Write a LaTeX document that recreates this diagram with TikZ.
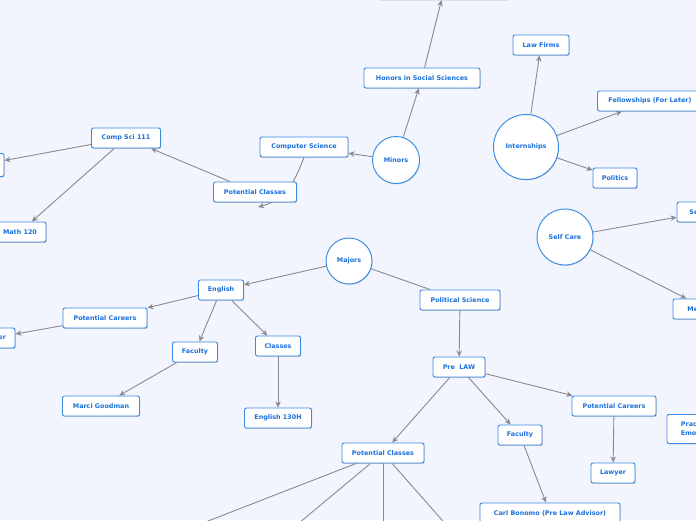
\documentclass[tikz,border=0pt]{standalone}
\usepackage{fontspec}
\setmainfont{DejaVu Sans}
\usetikzlibrary{arrows.meta,shadows}
\definecolor{bgc}{HTML}{F2F5FD}
\definecolor{bord}{HTML}{3A8AE4}
\definecolor{txt}{HTML}{1B70DA}
\definecolor{conn}{HTML}{8A8A8E}
\tikzset{
  box/.style={draw=bord, line width=0.95pt, fill=white, rounded corners=2pt,
    text=txt, font=\fontsize{6.4}{9}\selectfont\bfseries, minimum height=20pt,
    inner sep=0pt, align=center,
    drop shadow={shadow xshift=0.5pt,shadow yshift=-0.8pt,opacity=0.25}},
  bub/.style={circle, draw=bord, line width=0.95pt, fill=white, text=txt,
    font=\fontsize{6.4}{9}\selectfont\bfseries, inner sep=0pt,
    drop shadow={shadow xshift=0.5pt,shadow yshift=-0.8pt,opacity=0.2}},
  ghost/.style={draw=none, fill=none, text opacity=0, drop shadow={opacity=0}},
  arr/.style={draw=conn, line width=0.9pt, -{Stealth[length=6pt,width=5.5pt]}},
  ln/.style={draw=conn, line width=0.9pt}
}
\begin{document}
\begin{tikzpicture}[x=1pt,y=-1pt]
\useasboundingbox (0,0) rectangle (696,520);
\clip (0,0) rectangle (696,520);
\fill[bgc] (0,0) rectangle (696,520);

% the cut-off box at the top
\path (444,-10) node[minimum width=128pt, minimum height=20pt, inner sep=0pt] (top) {};
\draw[black!12, fill=bgc!60!white, line width=0.6pt] (top.north west) rectangle (top.south east);

% geometry of the nodes (invisible), used by the connectors
\path
  (422,78) node[box, minimum width=116pt, ghost] (honors) {Honors in Social Sciences}
  (396,160) node[bub, minimum size=47pt, ghost] (minors) {Minors}
  (304,147) node[box, minimum width=88pt, ghost] (cs) {Computer Science}
  (255,192) node[box, minimum width=83pt, ghost] (pcl) {Potential Classes}
  (126,138) node[box, minimum width=69pt, ghost] (cs111) {Comp Sci 111}
  (-20,165) node[box, minimum width=48pt, minimum height=23pt, ghost] (leftA) {}
  (20,232) node[box, minimum width=52pt, ghost] (math) {Math 120}
  (349,261) node[bub, minimum size=46pt, ghost] (majors) {Majors}
  (221,290) node[box, minimum width=45pt, ghost] (eng) {English}
  (105,318) node[box, minimum width=84pt, ghost] (epc) {Potential Careers}
  (-7,338) node[box, minimum width=44pt, ghost] (elaw) {Lawyer}
  (195,352) node[box, minimum width=45pt, ghost] (efac) {Faculty}
  (101,406) node[box, minimum width=77pt, ghost] (marci) {Marci Goodman}
  (278,346) node[box, minimum width=45pt, ghost] (ecl) {Classes}
  (278,418) node[box, minimum width=67pt, ghost] (e130) {English 130H}
  (460,300) node[box, minimum width=80pt, ghost] (ps) {Political Science}
  (459,367) node[box, minimum width=52pt, ghost] (pl) {Pre\ \ LAW}
  (383,453) node[box, minimum width=82pt, ghost] (plc) {Potential Classes}
  (520,435) node[box, minimum width=44pt, ghost] (plf) {Faculty}
  (550,513) node[box, minimum width=140pt, ghost] (carl) {Carl Bonomo (Pre Law Advisor)}
  (614,406) node[box, minimum width=84pt, ghost] (plp) {Potential Careers}
  (613,473) node[box, minimum width=44pt, ghost] (law) {Lawyer}
  (526,147) node[bub, minimum size=65pt, ghost] (intern) {Internships}
  (541,45) node[box, minimum width=56pt, ghost] (firms) {Law Firms}
  (650,101) node[box, minimum width=105pt, ghost] (fell) {Fellowships (For Later)}
  (615,178) node[box, minimum width=44pt, ghost] (pol) {Politics}
  (565,237) node[bub, minimum size=56pt, ghost] (self) {Self Care}
  (706,212) node[box, minimum width=58pt, ghost] (selfl) {Self Love}
  (707,309) node[box, minimum width=68pt, ghost] (med) {Meditation}
  (712,429) node[box, minimum width=90pt, minimum height=29pt, ghost] (prac) {Practice\\Emotional Health}
  ;
\coordinate (pcEnd) at (258,207);
\coordinate (d1) at (190,528);
\coordinate (d2) at (293,528);
\coordinate (d3) at (383,528);
\coordinate (d4) at (449,528);

% ---------- connectors
\draw[arr] (honors) -- (top);
\draw[arr] (minors) -- (honors);
\draw[arr] (minors) -- (cs);
\draw[arr] (cs.south) .. controls (293,186) and (284,200) .. (pcEnd);
\draw[arr] (pcl) -- (cs111);
\draw[arr] (cs111) -- (leftA);
\draw[arr] (cs111) -- (math);
\draw[arr] (majors) -- (eng);
\draw[arr] (eng) -- (epc);
\draw[arr] (epc) -- (elaw);
\draw[arr] (eng) -- (efac);
\draw[arr] (efac) -- (marci);
\draw[arr] (eng) -- (ecl);
\draw[arr] (ecl) -- (e130);
\draw[ln] (majors) -- (ps);
\draw[arr] (ps) -- (pl);
\draw[arr] (pl) -- (plc);
\draw[arr] (pl) -- (plf);
\draw[arr] (plf) -- (carl);
\draw[arr] (pl) -- (plp);
\draw[arr] (plp) -- (law);
\draw[ln] (plc) -- (d1);
\draw[ln] (plc) -- (d2);
\draw[ln] (plc) -- (d3);
\draw[ln] (plc) -- (d4);
\draw[arr] (intern) -- (firms);
\draw[arr] (intern) -- (fell);
\draw[arr] (intern) -- (pol);
\draw[arr] (self) -- (selfl);
\draw[arr] (self) -- (med);

% ---------- visible nodes, drawn over the connectors
\path
  (422,78) node[box, minimum width=116pt] (honorsV) {Honors in Social Sciences}
  (396,160) node[bub, minimum size=47pt] (minorsV) {Minors}
  (304,147) node[box, minimum width=88pt] (csV) {Computer Science}
  (255,192) node[box, minimum width=83pt] (pclV) {Potential Classes}
  (126,138) node[box, minimum width=69pt] (cs111V) {Comp Sci 111}
  (-20,165) node[box, minimum width=48pt, minimum height=23pt] (leftAV) {}
  (20,232) node[box, minimum width=52pt] (mathV) {Math 120}
  (349,261) node[bub, minimum size=46pt] (majorsV) {Majors}
  (221,290) node[box, minimum width=45pt] (engV) {English}
  (105,318) node[box, minimum width=84pt] (epcV) {Potential Careers}
  (-7,338) node[box, minimum width=44pt] (elawV) {Lawyer}
  (195,352) node[box, minimum width=45pt] (efacV) {Faculty}
  (101,406) node[box, minimum width=77pt] (marciV) {Marci Goodman}
  (278,346) node[box, minimum width=45pt] (eclV) {Classes}
  (278,418) node[box, minimum width=67pt] (e130V) {English 130H}
  (460,300) node[box, minimum width=80pt] (psV) {Political Science}
  (459,367) node[box, minimum width=52pt] (plV) {Pre\ \ LAW}
  (383,453) node[box, minimum width=82pt] (plcV) {Potential Classes}
  (520,435) node[box, minimum width=44pt] (plfV) {Faculty}
  (550,513) node[box, minimum width=140pt] (carlV) {Carl Bonomo (Pre Law Advisor)}
  (614,406) node[box, minimum width=84pt] (plpV) {Potential Careers}
  (613,473) node[box, minimum width=44pt] (lawV) {Lawyer}
  (526,147) node[bub, minimum size=65pt] (internV) {Internships}
  (541,45) node[box, minimum width=56pt] (firmsV) {Law Firms}
  (650,101) node[box, minimum width=105pt] (fellV) {Fellowships (For Later)}
  (615,178) node[box, minimum width=44pt] (polV) {Politics}
  (565,237) node[bub, minimum size=56pt] (selfV) {Self Care}
  (706,212) node[box, minimum width=58pt] (selflV) {Self Love}
  (707,309) node[box, minimum width=68pt] (medV) {Meditation}
  (712,429) node[box, minimum width=90pt, minimum height=29pt, align=left] (pracV) {Practice\\Emotional Health}
  ;
\end{tikzpicture}
\end{document}
